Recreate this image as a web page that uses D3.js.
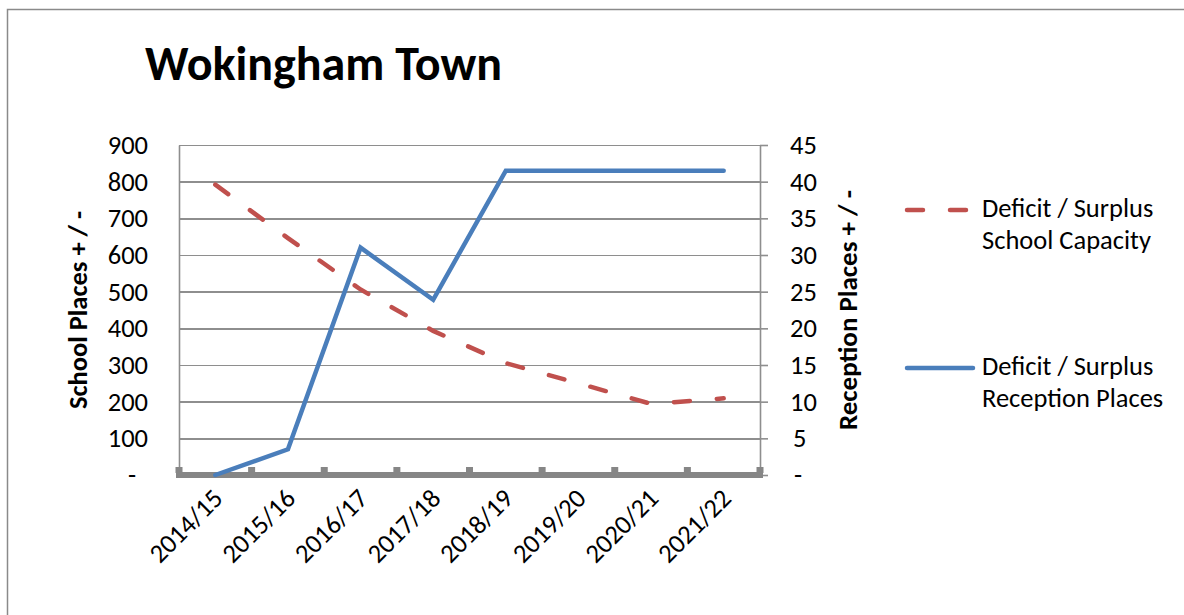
<!DOCTYPE html>
<html>
<head>
<meta charset="utf-8">
<script src="https://cdn.jsdelivr.net/npm/d3@7"></script>
<style>
  html, body { margin: 0; padding: 0; background: #fff; }
  svg { display: block; }
  text { font-family: Carlito, Lato, "Open Sans", sans-serif; fill: #000; }
</style>
</head>
<body>
<svg id="chart" width="1184" height="615"></svg>
<script>
// chart data
const categories = ['2014/15', '2015/16', '2016/17', '2017/18', '2018/19', '2019/20', '2020/21', '2021/22'];
const schoolCapacity = [792, 646, 506, 393, 305, 250, 194, 209];
const receptionPlaces = [0, 3.5, 31, 23.9, 41.5, 41.5, 41.5, 41.5];
const leftTicks = [0, 100, 200, 300, 400, 500, 600, 700, 800, 900];
const rightTicks = [0, 5, 10, 15, 20, 25, 30, 35, 40, 45];
const seriesNames = [
  ['Deficit / Surplus', 'School Capacity'],
  ['Deficit / Surplus', 'Reception Places'],
];

const svg = d3.select('#chart');
const plot = { left: 179, right: 760, top: 145, bottom: 475 };
const red = '#C0504D';
const blue = '#4A7EBB';
const gridColor = '#8e8e8e';
const fontSize = 26.5;

// outer chart frame, runs off the right and bottom of the picture
svg.append('rect')
  .attr('x', 7.5).attr('y', 9.5)
  .attr('width', 1200).attr('height', 620)
  .attr('fill', 'none')
  .attr('stroke', '#8a8a8a')
  .attr('stroke-width', 1.5);

svg.append('text')
  .attr('x', 145).attr('y', 80)
  .attr('font-size', 48).attr('font-weight', 'bold')
  .text('Wokingham Town');

const x = d3.scaleBand().domain(categories).range([plot.left, plot.right]).padding(0);
const yLeft = d3.scaleLinear().domain([0, 900]).range([plot.bottom, plot.top]);
const yRight = d3.scaleLinear().domain([0, 45]).range([plot.bottom, plot.top]);

const fmt = d => (d === 0 ? '-' : d);

/*
Gridlines come from the left axis with a long negative tick.
Then the domain path is removed and lines are styled like the original.
*/
const grid = svg.append('g')
  .attr('transform', `translate(${plot.left},0)`)
  .call(d3.axisLeft(yLeft).tickValues(leftTicks).tickSize(-(plot.right - plot.left)).tickFormat(''));
grid.select('.domain').remove();
grid.selectAll('.tick line')
  .attr('stroke', gridColor)
  .attr('stroke-width', 1.6)
  .attr('shape-rendering', 'crispEdges');

// left value axis
const axisL = svg.append('g')
  .attr('transform', `translate(${plot.left},0)`)
  .call(d3.axisLeft(yLeft).tickValues(leftTicks).tickSize(0).tickPadding(31).tickFormat(fmt));
axisL.select('.domain').attr('stroke', gridColor).attr('stroke-width', 1.6);
axisL.selectAll('.tick text')
  .attr('font-size', fontSize)
  .attr('font-family', 'Carlito, Lato, sans-serif')
  .attr('dx', d => (d === 0 ? -12 : 0));

// right value axis, outward ticks
const axisR = svg.append('g')
  .attr('transform', `translate(${plot.right},0)`)
  .call(d3.axisRight(yRight).tickValues(rightTicks).tickSize(8).tickPadding(22).tickSizeOuter(0).tickFormat(fmt));
axisR.select('.domain').attr('stroke', gridColor).attr('stroke-width', 1.6);
axisR.selectAll('.tick line').attr('stroke', gridColor).attr('stroke-width', 1.6);
axisR.selectAll('.tick text')
  .attr('font-size', fontSize)
  .attr('font-family', 'Carlito, Lato, sans-serif')
  .attr('dx', d => (d === 0 ? 4 : (d === 5 ? 3 : 0)));

// thick category axis with little marks between categories
const boundaries = categories.map(c => x(c)).concat([plot.right]);
svg.append('line')
  .attr('x1', plot.left - 3).attr('x2', plot.right + 3)
  .attr('y1', plot.bottom).attr('y2', plot.bottom)
  .attr('stroke', '#868686').attr('stroke-width', 6);
svg.selectAll('.catTick')
  .data(boundaries)
  .join('rect')
  .attr('class', 'catTick')
  .attr('x', d => d - 3.5).attr('y', plot.bottom - 8)
  .attr('width', 7).attr('height', 6)
  .attr('fill', '#868686');

svg.selectAll('.catLabel')
  .data(categories)
  .join('text')
  .attr('class', 'catLabel')
  .attr('font-size', fontSize)
  .attr('text-anchor', 'end')
  .attr('transform', d => `translate(${x(d) + x.bandwidth() / 2 + 9},${plot.bottom + 25}) rotate(-45)`)
  .text(d => d);

// axis titles
svg.append('text')
  .attr('transform', `translate(87,${(plot.top + plot.bottom) / 2}) rotate(-90)`)
  .attr('text-anchor', 'middle')
  .attr('font-size', fontSize).attr('font-weight', 'bold')
  .text('School Places + / -');

svg.append('text')
  .attr('transform', `translate(857,${(plot.top + plot.bottom) / 2}) rotate(-90)`)
  .attr('text-anchor', 'middle')
  .attr('font-size', fontSize + 0.5).attr('font-weight', 'bold')
  .text('Reception Places + / -');

// series lines
const cx = d => x(d) + x.bandwidth() / 2;

const redLine = d3.line()
  .x((d, i) => cx(categories[i]))
  .y(d => yLeft(d));
svg.append('path')
  .datum(schoolCapacity)
  .attr('d', redLine)
  .attr('fill', 'none')
  .attr('stroke', red)
  .attr('stroke-width', 4.5)
  .attr('stroke-linecap', 'round')
  .attr('stroke-dasharray', '16,27');

const blueLine = d3.line()
  .x((d, i) => cx(categories[i]))
  .y(d => yRight(d));
svg.append('path')
  .datum(receptionPlaces)
  .attr('d', blueLine)
  .attr('fill', 'none')
  .attr('stroke', blue)
  .attr('stroke-width', 4.5)
  .attr('stroke-linecap', 'round')
  .attr('stroke-linejoin', 'miter');

// legend
const legend = svg.append('g');
const legendRows = [
  { y: 210, color: red, dash: '16,27', x2: 967, lines: seriesNames[0] },
  { y: 368, color: blue, dash: null, x2: 973, lines: seriesNames[1] },
];
legendRows.forEach(row => {
  legend.append('line')
    .attr('x1', 907).attr('x2', row.x2)
    .attr('y1', row.y).attr('y2', row.y)
    .attr('stroke', row.color)
    .attr('stroke-width', 4.5)
    .attr('stroke-linecap', 'round')
    .attr('stroke-dasharray', row.dash);
  legend.append('text')
    .attr('x', 982).attr('y', row.y + 7)
    .attr('font-size', fontSize)
    .selectAll('tspan')
    .data(row.lines)
    .join('tspan')
    .attr('x', 982)
    .attr('dy', (d, i) => (i === 0 ? 0 : 32))
    .text(d => d);
});
</script>
</body>
</html>
